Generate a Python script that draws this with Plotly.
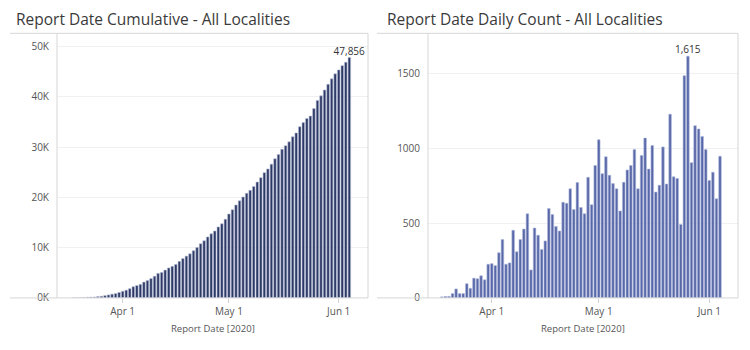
import plotly.graph_objects as go

# Report dates, Mar 18 - Jun 4 2020
dates = [
    "2020-03-18", "2020-03-19", "2020-03-20", "2020-03-21", "2020-03-22", "2020-03-23",
    "2020-03-24", "2020-03-25", "2020-03-26", "2020-03-27", "2020-03-28", "2020-03-29",
    "2020-03-30", "2020-03-31",
    "2020-04-01", "2020-04-02", "2020-04-03", "2020-04-04", "2020-04-05", "2020-04-06",
    "2020-04-07", "2020-04-08", "2020-04-09", "2020-04-10", "2020-04-11", "2020-04-12",
    "2020-04-13", "2020-04-14", "2020-04-15", "2020-04-16", "2020-04-17", "2020-04-18",
    "2020-04-19", "2020-04-20", "2020-04-21", "2020-04-22", "2020-04-23", "2020-04-24",
    "2020-04-25", "2020-04-26", "2020-04-27", "2020-04-28", "2020-04-29", "2020-04-30",
    "2020-05-01", "2020-05-02", "2020-05-03", "2020-05-04", "2020-05-05", "2020-05-06",
    "2020-05-07", "2020-05-08", "2020-05-09", "2020-05-10", "2020-05-11", "2020-05-12",
    "2020-05-13", "2020-05-14", "2020-05-15", "2020-05-16", "2020-05-17", "2020-05-18",
    "2020-05-19", "2020-05-20", "2020-05-21", "2020-05-22", "2020-05-23", "2020-05-24",
    "2020-05-25", "2020-05-26", "2020-05-27", "2020-05-28", "2020-05-29", "2020-05-30",
    "2020-05-31",
    "2020-06-01", "2020-06-02", "2020-06-03", "2020-06-04",
]

cumulative = [
    7, 17, 27, 56, 117, 146, 175, 271, 335, 468, 597, 746, 868, 1094,
    1324, 1542, 1846, 2238, 2465, 2700, 3155, 3465, 3858, 4320, 4886, 5074,
    5544, 5966, 6292, 6675, 7276, 7837, 8318, 8768, 9411, 10047, 10781, 11374,
    12150, 12758, 13324, 14135, 14762, 15653,
    16716, 17552, 18501, 19325, 20094, 20827, 21412, 22190, 23051, 23941,
    24939, 25672, 26630, 27705, 28572, 29596, 30308, 31066, 32081, 32847,
    34083, 34897, 35700, 36194, 37689, 39314, 40224, 41382, 42518, 43604,
    44602,
    45392, 46237, 46903, 47856,
]

daily = [
    7, 10, 10, 29, 60, 29, 29, 95, 64, 132, 128, 148, 121, 225,
    229, 216, 302, 390, 225, 234, 452, 308, 390, 460, 562, 187,
    467, 419, 324, 381, 597, 557, 478, 447, 639, 632, 729, 590,
    771, 604, 562, 806, 623, 885,
    1057, 830, 943, 819, 764, 729, 581, 773, 855, 885, 991, 729,
    952, 1068, 861, 1018, 707, 753, 1009, 761, 1228, 809, 798, 491,
    1485, 1615, 904, 1151, 1129, 1079, 991,
    785, 840, 662, 947,
]

tick_dates = ["2020-04-01", "2020-05-01", "2020-06-01"]
tick_text = ["Apr 1", "May 1", "Jun 1"]

cum_ticks = [0, 10000, 20000, 30000, 40000, 50000]
cum_tick_text = ["0K", "10K", "20K", "30K", "40K", "50K"]
daily_ticks = [0, 500, 1000, 1500]
daily_tick_text = ["0", "500", "1000", "1500"]

W, H = 750, 350
FONT = "Open Sans"
TEXT = "#333333"
MUTED = "#555555"
BORDER = "#d6d6d6"
GRID = "#f0f0f0"
DAY_MS = 86400000


def px(x):
    return x / W


def py(y):
    return 1 - y / H


# label only the last cumulative bar and the peak daily bar
cum_tmpl = [""] * (len(cumulative) - 1) + ["%{y:,.0f}"]
peak = daily.index(max(daily))
daily_tmpl = ["%{y:,.0f}" if i == peak else "" for i in range(len(daily))]

fig = go.Figure()
fig.add_trace(go.Bar(
    x=dates, y=cumulative, xaxis="x", yaxis="y",
    width=0.72 * DAY_MS,
    marker=dict(color="#2d3965", line=dict(color="#b8bfd8", width=0.6)),
    texttemplate=cum_tmpl, textposition="outside", cliponaxis=False,
    constraintext="none",
    textfont=dict(family=FONT, size=10, color=TEXT),
    hoverinfo="x+y",
))
fig.add_trace(go.Bar(
    x=dates, y=daily, xaxis="x2", yaxis="y2",
    width=0.72 * DAY_MS,
    marker=dict(color="#5867a7", line=dict(color="#aeb8de", width=0.6)),
    texttemplate=daily_tmpl, textposition="outside", cliponaxis=False,
    constraintext="none",
    textfont=dict(family=FONT, size=10, color=TEXT),
    hoverinfo="x+y",
))

y_domain = [py(304), py(34)]
xcommon = dict(
    type="date", tickmode="array", tickvals=tick_dates, ticktext=tick_text,
    showgrid=False, showline=False, zeroline=False,
    ticks="outside", ticklen=4, tickcolor="#d0d0d0",
    tickfont=dict(family=FONT, size=10, color=MUTED),
)
ycommon = dict(
    tickmode="array", showgrid=True, gridcolor=GRID, gridwidth=1,
    showline=False, zeroline=False,
    ticks="outside", ticklen=5, tickcolor="rgba(0,0,0,0)",
    tickfont=dict(family=FONT, size=10, color=MUTED),
)

fig.update_layout(
    width=W, height=H,
    margin=dict(l=0, r=0, t=0, b=0),
    paper_bgcolor="white", plot_bgcolor="white",
    showlegend=False,
    xaxis=dict(domain=[px(57), px(368)],
               range=["2020-03-13 11:00", "2020-06-09 06:30"], anchor="y", **xcommon),
    yaxis=dict(domain=y_domain, range=[0, 52670], anchor="x",
               tickvals=cum_ticks, ticktext=cum_tick_text, **ycommon),
    xaxis2=dict(domain=[px(428), px(738)],
                range=["2020-03-14 03:00", "2020-06-09 01:00"], anchor="y2", **xcommon),
    yaxis2=dict(domain=y_domain, range=[0, 1768], anchor="x2",
                tickvals=daily_ticks, ticktext=daily_tick_text, **ycommon),
)

# pane borders
borders = [
    (10, 34, 368, 34), (10, 304, 368, 304), (57, 34, 57, 304), (368, 34, 368, 304),
    (377, 34, 738, 34), (377, 304, 738, 304), (428, 34, 428, 304), (738, 34, 738, 304),
]
for x0, y0, x1, y1 in borders:
    fig.add_shape(type="line", xref="paper", yref="paper",
                  x0=px(x0), y0=py(y0), x1=px(x1), y1=py(y1),
                  line=dict(color=BORDER, width=1), layer="above")

titles = [
    (14, "Report Date Cumulative - All Localities"),
    (385, "Report Date Daily Count - All Localities"),
]
for x, t in titles:
    fig.add_annotation(text=t, xref="paper", yref="paper", x=px(x), y=py(19),
                       xanchor="left", yanchor="middle", showarrow=False,
                       font=dict(family=FONT, size=15.5, color="#3a3a3a"))

for cx in (212.5, 583):
    fig.add_annotation(text="Report Date [2020]", xref="paper", yref="paper",
                       x=px(cx), y=py(335), xanchor="center", yanchor="middle",
                       showarrow=False, font=dict(family=FONT, size=9.5, color=MUTED))

fig.write_html("out.html")
